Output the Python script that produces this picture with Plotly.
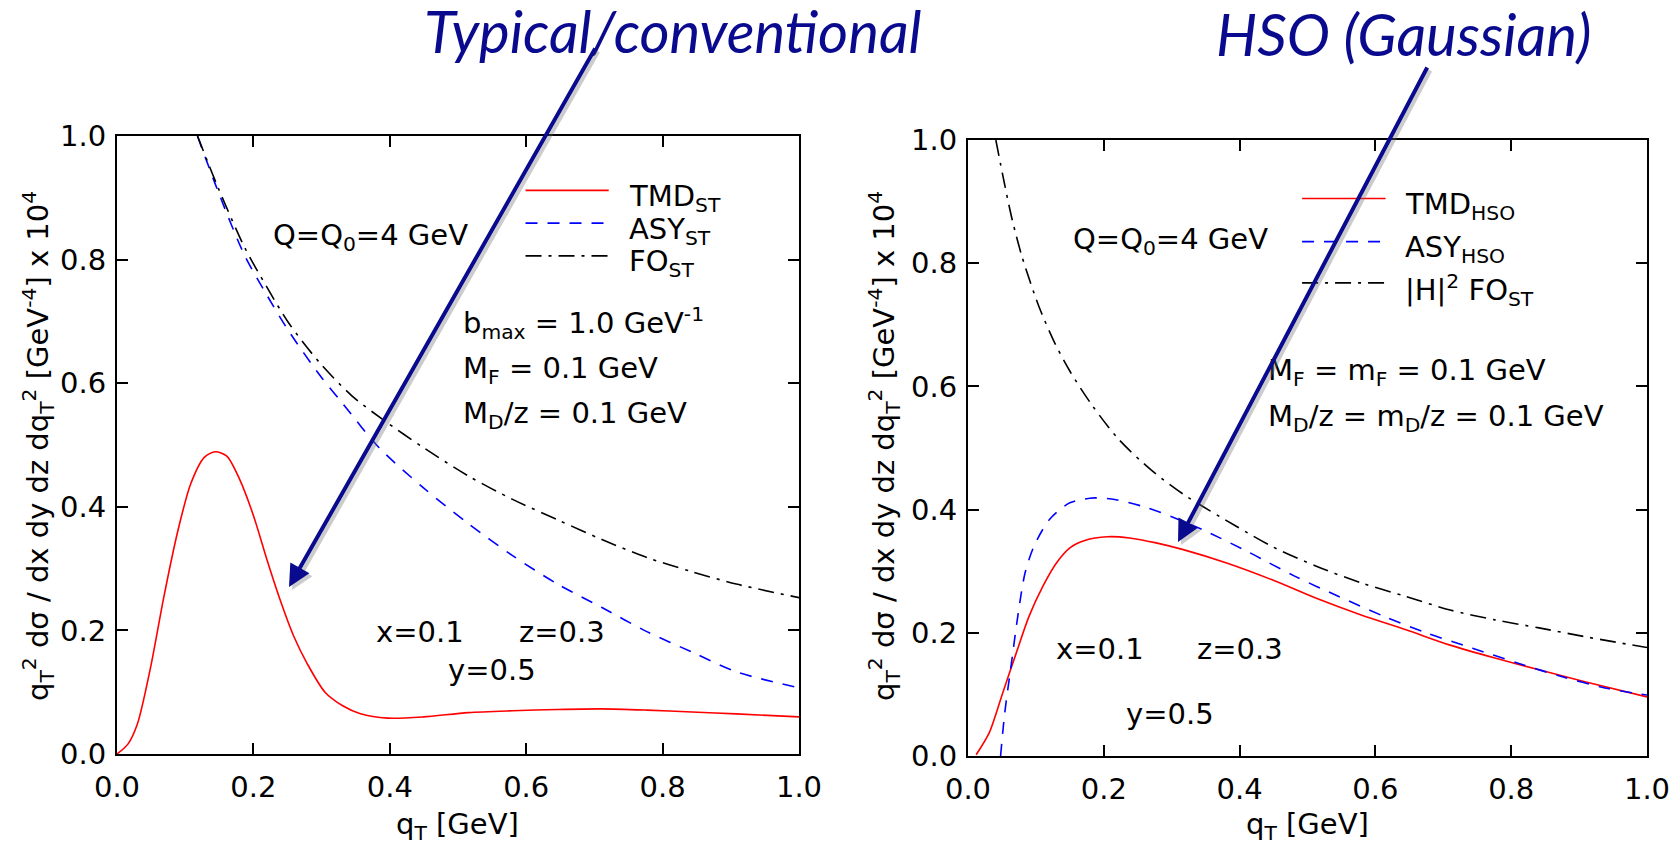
import plotly.graph_objects as go

# ---------------- data: left panel (standard / conventional) ----------------
q_fo_st = [0.118, 0.148, 0.187, 0.22, 0.252, 0.298, 0.344, 0.39, 0.449, 0.515,
           0.58, 0.646, 0.711, 0.777, 0.843, 0.908, 1.0]
fo_st = [1.0, 0.917, 0.820, 0.755, 0.697, 0.632, 0.580, 0.541, 0.496, 0.450,
         0.412, 0.379, 0.347, 0.318, 0.295, 0.275, 0.253]

q_asy_st = [0.118, 0.148, 0.187, 0.22, 0.252, 0.298, 0.331, 0.384, 0.449, 0.515,
            0.58, 0.646, 0.711, 0.777, 0.843, 0.908, 1.0]
asy_st = [1.0, 0.911, 0.807, 0.742, 0.684, 0.612, 0.567, 0.496, 0.431, 0.373,
          0.321, 0.275, 0.237, 0.198, 0.165, 0.133, 0.107]

q_tmd_st = [0.0, 0.016, 0.03, 0.049, 0.069, 0.089, 0.108, 0.128, 0.144, 0.161,
            0.18, 0.2, 0.22, 0.239, 0.259, 0.279, 0.305, 0.331, 0.357, 0.397,
            0.449, 0.515, 0.58, 0.646, 0.711, 0.777, 0.843, 0.908, 1.0]
tmd_st = [0.0, 0.016, 0.049, 0.139, 0.256, 0.36, 0.437, 0.48, 0.489, 0.482,
          0.444, 0.386, 0.314, 0.25, 0.191, 0.146, 0.10, 0.078, 0.065, 0.058,
          0.06, 0.067, 0.070, 0.072, 0.073, 0.071, 0.068, 0.065, 0.06]

# ---------------- data: right panel (HSO, Gaussian) ----------------
q_fo_hso = [0.041, 0.053, 0.065, 0.08, 0.104, 0.128, 0.151, 0.183, 0.222, 0.27,
            0.317, 0.395, 0.448, 0.513, 0.579, 0.645, 0.71, 0.776, 0.841, 0.907, 1.0]
fo_hso = [1.0, 0.933, 0.871, 0.809, 0.731, 0.67, 0.623, 0.569, 0.514, 0.464,
          0.425, 0.373, 0.34, 0.308, 0.281, 0.259, 0.237, 0.221, 0.208, 0.194, 0.176]

q_asy_hso = [0.048, 0.054, 0.064, 0.074, 0.084, 0.097, 0.12, 0.15, 0.186, 0.218,
             0.264, 0.317, 0.356, 0.415, 0.481, 0.546, 0.612, 0.677, 0.743, 0.809,
             0.874, 0.94, 1.0]
asy_hso = [0.0, 0.069, 0.151, 0.232, 0.297, 0.34, 0.384, 0.411, 0.419, 0.416,
           0.403, 0.381, 0.362, 0.33, 0.292, 0.259, 0.227, 0.199, 0.175, 0.151,
           0.129, 0.11, 0.099]

q_tmd_hso = [0.012, 0.031, 0.051, 0.071, 0.09, 0.11, 0.13, 0.15, 0.172, 0.205,
             0.238, 0.277, 0.317, 0.382, 0.448, 0.513, 0.579, 0.645, 0.71, 0.776,
             0.841, 0.907, 1.0]
tmd_hso = [0.002, 0.037, 0.102, 0.167, 0.227, 0.275, 0.313, 0.338, 0.35, 0.356,
           0.354, 0.346, 0.335, 0.313, 0.286, 0.256, 0.229, 0.205, 0.18, 0.159,
           0.14, 0.121, 0.096]

tick_vals = [0.0, 0.2, 0.4, 0.6, 0.8, 1.0]
tick_text = ["0.0", "0.2", "0.4", "0.6", "0.8", "1.0"]

W, H = 1680, 849
FONT = "DejaVu Sans"
FS = 29
NAVY = "#0a0a8f"

DASH_ASY = "12px,10px"
DASH_FO = "16px,7px,3px,7px"


def px(x):
    return x / W


def py(y):
    return 1 - y / H


fig = go.Figure()

series = [
    ("x", "y", q_tmd_st, tmd_st, "red", "solid"),
    ("x", "y", q_asy_st, asy_st, "blue", DASH_ASY),
    ("x", "y", q_fo_st, fo_st, "black", DASH_FO),
    ("x2", "y2", q_tmd_hso, tmd_hso, "red", "solid"),
    ("x2", "y2", q_asy_hso, asy_hso, "blue", DASH_ASY),
    ("x2", "y2", q_fo_hso, fo_hso, "black", DASH_FO),
]
for xa, ya, xs, ys, col, dash in series:
    fig.add_trace(go.Scatter(
        x=xs, y=ys, xaxis=xa, yaxis=ya, mode="lines",
        line=dict(color=col, width=1.6, dash=dash, shape="spline", smoothing=0.8),
        showlegend=False, hoverinfo="skip"))

axis_common = dict(
    range=[0, 1], tickvals=tick_vals, ticktext=tick_text,
    ticks="inside", ticklen=11, tickwidth=1.5, tickcolor="black",
    showline=True, linewidth=2, linecolor="black", mirror="ticks",
    showgrid=False, zeroline=False, automargin=False,
    tickfont=dict(family=FONT, size=FS, color="black"),
)

fig.update_layout(
    width=W, height=H,
    margin=dict(l=0, r=0, t=0, b=0, pad=0, autoexpand=False),
    paper_bgcolor="white", plot_bgcolor="white",
    xaxis=dict(domain=[px(117), px(799)], anchor="y", ticklabelstandoff=6, **axis_common),
    yaxis=dict(domain=[py(754), py(136)], anchor="x", ticklabelstandoff=3, **axis_common),
    xaxis2=dict(domain=[px(968), px(1647)], anchor="y2", ticklabelstandoff=6, **axis_common),
    yaxis2=dict(domain=[py(756), py(140)], anchor="x2", ticklabelstandoff=3, **axis_common),
)

annotations = []
shapes = []


def text(xref, yref, x, y, s, xanchor="left", size=FS, **kw):
    annotations.append(dict(
        xref=xref, yref=yref, x=x, y=y, text=s, showarrow=False,
        xanchor=xanchor, yanchor="middle",
        font=dict(family=FONT, size=size, color="black"), **kw))


# left panel labels
text("x", "y", 0.226, 0.836, "Q=Q<sub>0</sub>=4 GeV")
text("x", "y", 0.504, 0.697, "b<sub>max</sub> = 1.0 GeV<sup>-1</sup>")
text("x", "y", 0.504, 0.622, "M<sub>F</sub> = 0.1 GeV")
text("x", "y", 0.504, 0.548, "M<sub>D</sub>/z = 0.1 GeV")
text("x", "y", 0.377, 0.198, "x=0.1")
text("x", "y", 0.586, 0.198, "z=0.3")
text("x", "y", 0.482, 0.136, "y=0.5")

# right panel labels
text("x2", "y2", 0.151, 0.836, "Q=Q<sub>0</sub>=4 GeV")
text("x2", "y2", 0.439, 0.623, "M<sub>F</sub> = m<sub>F</sub> = 0.1 GeV")
text("x2", "y2", 0.439, 0.549, "M<sub>D</sub>/z = m<sub>D</sub>/z = 0.1 GeV")
text("x2", "y2", 0.126, 0.173, "x=0.1")
text("x2", "y2", 0.334, 0.173, "z=0.3")
text("x2", "y2", 0.23, 0.068, "y=0.5")

# legends drawn inside each panel
legend_rows = [
    ("x", "y", 0.599, 0.721, 0.748,
     [(0.912, "red", "solid", "TMD<sub>ST</sub>"),
      (0.859, "blue", DASH_ASY, "ASY<sub>ST</sub>"),
      (0.806, "black", DASH_FO, "FO<sub>ST</sub>")]),
    ("x2", "y2", 0.492, 0.615, 0.641,
     [(0.905, "red", "solid", "TMD<sub>HSO</sub>"),
      (0.835, "blue", DASH_ASY, "ASY<sub>HSO</sub>"),
      (0.768, "black", DASH_FO, "|H|<sup>2</sup> FO<sub>ST</sub>")]),
]
for xref, yref, x0, x1, xt, rows in legend_rows:
    for yv, col, dash, label in rows:
        shapes.append(dict(type="line", xref=xref, yref=yref, x0=x0, x1=x1,
                           y0=yv, y1=yv, line=dict(color=col, width=1.6, dash=dash)))
        text(xref, yref, xt, yv - 0.012, label)

# axis titles (rotated, right edge placed just left of the tick labels)
ytitle = ("q<sub>T</sub><sup>2</sup> dσ / dx dy dz dq<sub>T</sub><sup>2</sup> "
          "[GeV<sup>-4</sup>] x 10<sup>4</sup>")
for xr in (61, 907):
    text("paper", "paper", px(xr), py(446), ytitle, xanchor="right", textangle=-90)
for xc in (458, 1307):
    text("paper", "paper", px(xc), py(826), "q<sub>T</sub> [GeV]", xanchor="center")

# headline captions
for s, xc, yc in (("Typical/conventional", 673, 30), ("HSO (Gaussian)", 1403, 33)):
    annotations.append(dict(
        xref="paper", yref="paper", x=px(xc), y=py(yc), text=s, showarrow=False,
        xanchor="center", yanchor="middle",
        font=dict(family="Lato", size=58, color=NAVY, style="italic")))

# pointer arrows (soft shadow first, then the arrow)
for tip, tail in (((289, 587), (596, 47)), ((1178, 542), (1428, 66))):
    for dx, col in ((3, "rgba(110,110,110,0.35)"), (0, NAVY)):
        annotations.append(dict(
            xref="paper", yref="paper", x=px(tip[0] + dx), y=py(tip[1] + dx),
            ax=tail[0] - tip[0], ay=tail[1] - tip[1], axref="pixel", ayref="pixel",
            text="", showarrow=True, arrowhead=2, arrowsize=1.1, arrowwidth=4,
            arrowcolor=col, standoff=0))

fig.update_layout(annotations=annotations, shapes=shapes)
fig.write_html("out.html")
